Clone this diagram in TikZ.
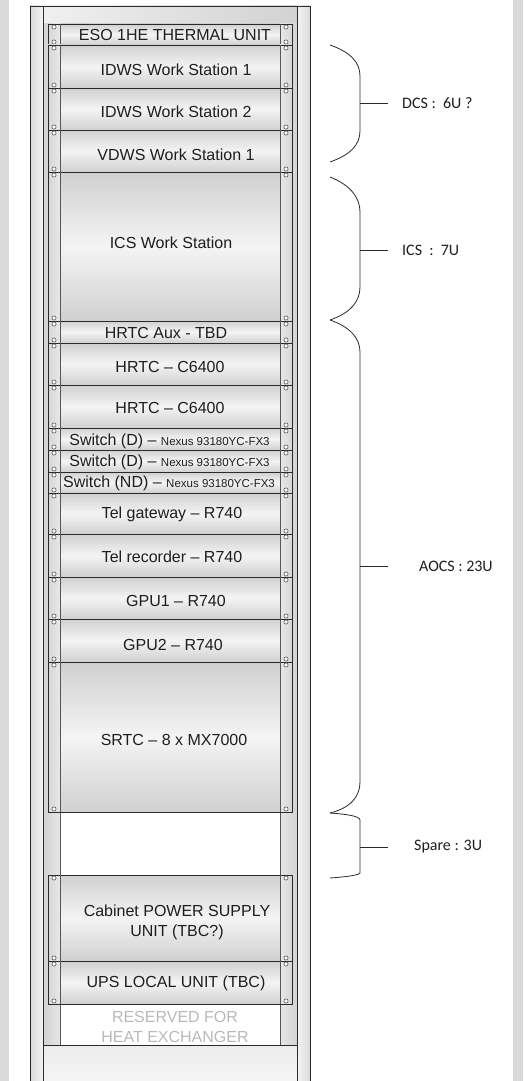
\documentclass[tikz,border=0pt]{standalone}
\usepackage{fontspec}
\setmainfont{Liberation Sans}
\newfontfamily\calfont{Carlito}
\definecolor{bandgray}{HTML}{DADADA}
\definecolor{unitdark}{HTML}{D0D0D0}
\definecolor{unitlight}{HTML}{F4F4F4}
\definecolor{linecol}{HTML}{2A2A2A}
\definecolor{txtcol}{HTML}{1E1E1E}
\begin{document}
\begin{tikzpicture}[x=1pt,y=-1pt,
  frameline/.style={draw=linecol, line width=0.9pt},
  thinline/.style={draw=linecol!80, line width=0.6pt},
  screw/.style={draw=linecol!80, line width=0.6pt, fill=white},
  lbl/.style={font=\fontsize{16}{18}\selectfont, inner sep=0pt, text=txtcol},
  reserved/.style={font=\fontsize{16}{20}\selectfont, inner sep=0pt, text=gray!55, align=center},
  sidelbl/.style={font=\calfont\fontsize{16}{18}\selectfont, inner sep=0pt, text=txtcol, anchor=west},
  bracestyle/.style={draw=linecol, line width=0.8pt},
  tick/.style={draw=linecol, line width=0.9pt}]
\useasboundingbox (0,0) rectangle (523,1081);
% side bands
\fill[bandgray] (0,0) rectangle (9,1081);
\fill[bandgray] (513,0) rectangle (523,1081);
% posts
\shade[left color=gray!30, right color=gray!8] (30,6) rectangle (43,1081);
\shade[left color=gray!8, right color=gray!30] (297,6) rectangle (310,1081);
% header
\shade[left color=gray!12, right color=gray!35] (43,6) rectangle (297,24);
% rails
\shade[left color=gray!35, right color=gray!20] (43,24) rectangle (60,1045);
\shade[left color=gray!20, right color=gray!35] (280,24) rectangle (297,1045);
% bottom plate
\shade[top color=gray!15, bottom color=gray!8] (43,1045) rectangle (297,1081);
% frame lines
\draw[frameline] (30,1081) -- (30,6) -- (310,6) -- (310,1081);
\draw[frameline] (43,6) -- (43,1081);
\draw[frameline] (297,6) -- (297,1081);
\draw[thinline] (60,24) -- (60,1045);
\draw[thinline] (280,24) -- (280,1045);
\draw[frameline] (43,1045) -- (297,1045);
% units
\foreach \t/\b in {24/45, 45/88, 88/130, 130/172, 172/321, 321/343, 343/385, 385/428, 428/450, 450/472, 472/493, 493/534, 534/577, 577/619, 619/662, 662/812, 875/961, 961/1004} {
  \shade[top color=unitdark, bottom color=unitdark, middle color=unitlight] (60,\t) rectangle (280,\b);
  \shade[left color=gray!32, right color=gray!18] (48,\t) rectangle (60,\b);
  \shade[left color=gray!18, right color=gray!32] (280,\t) rectangle (292,\b);
  \draw[frameline] (48,\t) rectangle (292,\b);
  \draw[thinline] (60,\t) -- (60,\b);
  \draw[thinline] (280,\t) -- (280,\b);
  \draw[screw] (54,{\t+3}) circle (2.1);
  \draw[screw] (54,{\b-3}) circle (2.1);
  \draw[screw] (286,{\t+3}) circle (2.1);
  \draw[screw] (286,{\b-3}) circle (2.1);
}
% labels
\node[lbl] (eso) at (175,35) {ESO 1HE THERMAL UNIT};
\node[lbl] (idws1) at (176,70) {IDWS Work Station 1};
\node[lbl] (idws2) at (176,112) {IDWS Work Station 2};
\node[lbl] (vdws1) at (176,155) {VDWS Work Station 1};
\node[lbl] (ics) at (171,243) {ICS Work Station};
\node[lbl] (aux) at (166,333) {HRTC Aux - TBD};
\node[lbl] (hrtca) at (170,367) {HRTC – C6400};
\node[lbl] (hrtcb) at (170,408) {HRTC – C6400};
\node[lbl] (swa) at (169.5,441) {Switch (D) – {\fontsize{11.5}{12}\selectfont Nexus 93180YC-FX3}};
\node[lbl] (swb) at (169.5,462) {Switch (D) – {\fontsize{11.5}{12}\selectfont Nexus 93180YC-FX3}};
\node[lbl] (swc) at (169,483) {Switch (ND) – {\fontsize{11.5}{12}\selectfont Nexus 93180YC-FX3}};
\node[lbl] (telgw) at (172,514) {Tel gateway – R740};
\node[lbl] (telrec) at (172,557) {Tel recorder – R740};
\node[lbl] (gpu1) at (176,601) {GPU1 – R740};
\node[lbl] (gpu2) at (173,645) {GPU2 – R740};
\node[lbl] (srtc) at (174,740) {SRTC – 8 x MX7000};
\node[lbl, align=center, font=\fontsize{16}{20}\selectfont] (psu) at (177,922) {Cabinet POWER SUPPLY\\UNIT (TBC?)};
\node[lbl] (ups) at (176,983) {UPS LOCAL UNIT (TBC)};
\node[reserved] (heat) at (175,1027) {RESERVED FOR\\HEAT EXCHANGER};
% braces
\draw[bracestyle] (330,45) .. controls (350,52) and (360,62) .. (360,76) -- (360,131) .. controls (360,145) and (350,155) .. (330,162);
\draw[bracestyle] (330,177) .. controls (350,185) and (360,197) .. (360,212) -- (360,287) .. controls (360,302) and (350,313) .. (330,320);
\draw[bracestyle] (330,320) .. controls (350,327) and (360,338) .. (360,352) -- (360,782) .. controls (360,797) and (350,808) .. (330,813);
\draw[bracestyle] (330,813) .. controls (345,814) and (360,816) .. (360,820) -- (360,873) .. controls (360,875) and (345,877) .. (330,878);
\coordinate (dcsm) at (360,103);
\coordinate (icsm) at (360,250);
\coordinate (aocsm) at (360,566);
\coordinate (sparem) at (360,847);
\node[sidelbl] (dcs) at (402,103) {DCS\ :\ \ 6U ?};
\node[sidelbl] (icsl) at (402,250) {ICS\ \ :\ \ 7U};
\node[sidelbl] (aocs) at (419,566) {AOCS : 23U};
\node[sidelbl] (spare) at (414,847) {Spare : 3U};
\draw[tick] (dcsm) -- ++(28,0);
\draw[tick] (icsm) -- ++(28,0);
\draw[tick] (aocsm) -- ++(28,0);
\draw[tick] (sparem) -- ++(28,0);
\end{tikzpicture}
\end{document}
